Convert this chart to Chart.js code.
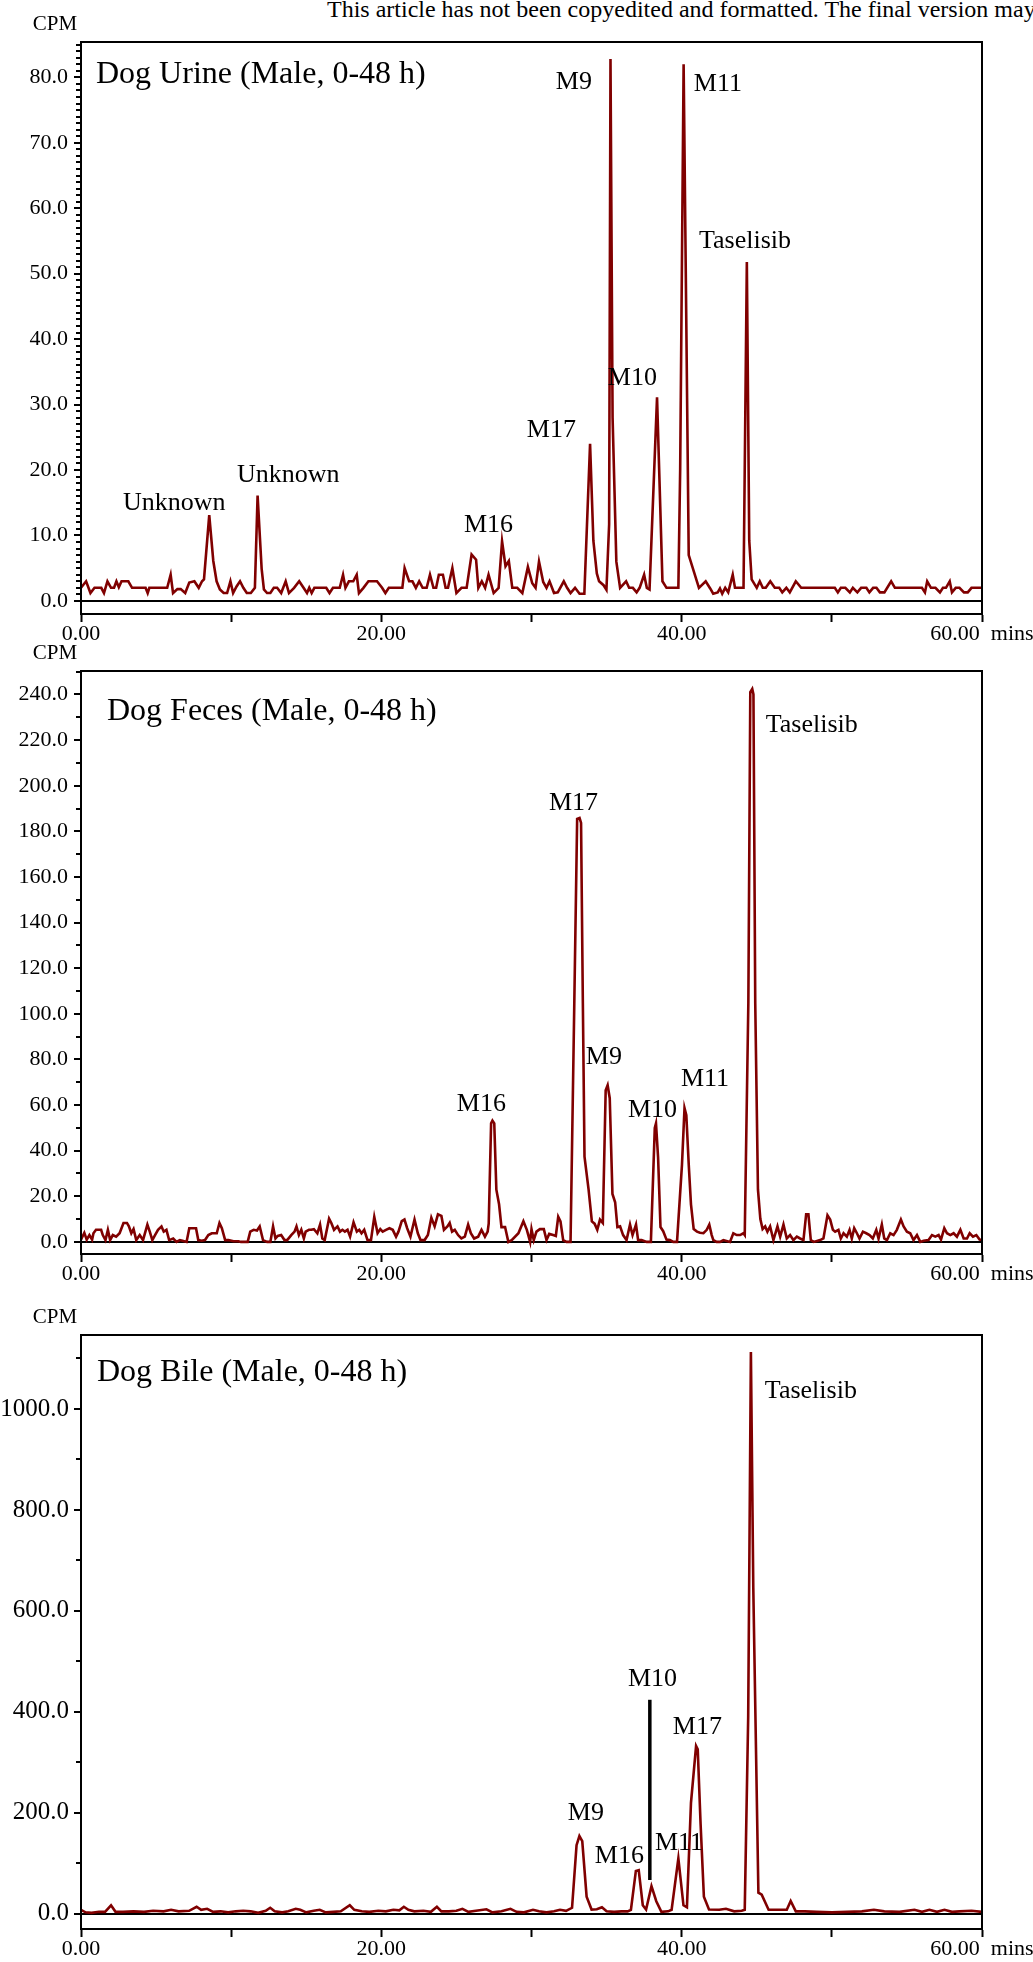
<!DOCTYPE html>
<html>
<head>
<meta charset="utf-8">
<title>Dog radiochromatograms</title>
<script src="https://cdn.jsdelivr.net/npm/chart.js@4.4.1/dist/chart.umd.min.js"></script>
<style>
  body {
    margin: 0;
    background: #fff;
    width: 1033px;
    height: 1962px;
    position: relative;
    overflow: hidden;
    font-family: "Liberation Serif", "Times New Roman", serif;
  }
  .note {
    position: absolute;
    left: 327px;
    top: -3px;
    font-size: 24px;
    line-height: 24px;
    white-space: nowrap;
    color: #000;
  }
  canvas {
    position: absolute;
    left: 0;
  }
</style>
</head>
<body>
<div class="note">This article has not been copyedited and formatted. The final version may</div>
<canvas id="urine-chart" width="1033" height="650" style="top:0px"></canvas>
<canvas id="feces-chart" width="1033" height="665" style="top:625px"></canvas>
<canvas id="bile-chart" width="1033" height="672" style="top:1290px"></canvas>

<script>
// retention time (min), CPM
const urineTrace = [
  [0, 2], [0.34, 3], [0.63, 1.2], [0.9, 2], [1.35, 2], [1.53, 1.2], [1.76, 3], [2.0, 2],
  [2.2, 2], [2.36, 3], [2.52, 2.1], [2.7, 3], [3.15, 3], [3.4, 2], [4.3, 2], [4.44, 1.2],
  [4.55, 2], [5.74, 2], [5.97, 4], [6.13, 1.2], [6.42, 1.8], [6.64, 1.8], [6.94, 1.2],
  [7.21, 2.8], [7.55, 3], [7.84, 2], [8.06, 3], [8.19, 3.3], [8.54, 13.1], [8.81, 6.1],
  [9.03, 3], [9.25, 1.75], [9.5, 1.2], [9.73, 1.2], [9.95, 3], [10.13, 1.2], [10.36, 2.2],
  [10.59, 3], [10.81, 2], [11.04, 1.2], [11.31, 1.2], [11.58, 2], [11.76, 16.1], [12.03, 4.9],
  [12.18, 1.75], [12.39, 1.2], [12.61, 1.2], [12.84, 2], [13.06, 2], [13.33, 1.2], [13.63, 3],
  [13.85, 1.2], [14.19, 2], [14.53, 3], [14.82, 2], [15.05, 1.2], [15.2, 2], [15.36, 1.2],
  [15.54, 2], [16.33, 2], [16.55, 1.2], [16.78, 2], [17.23, 2], [17.45, 4], [17.61, 2],
  [17.84, 3], [18.13, 3], [18.36, 4], [18.51, 1.2], [18.81, 2], [19.14, 3], [19.71, 3],
  [20.05, 2], [20.27, 1.2], [20.5, 2], [21.4, 2], [21.55, 5], [21.85, 3], [22.07, 3],
  [22.3, 2], [22.52, 3], [22.75, 2], [23.02, 2], [23.24, 4], [23.47, 2], [23.65, 2],
  [23.83, 4], [24.1, 4], [24.28, 2], [24.44, 2], [24.73, 5], [25.0, 1.2], [25.34, 2],
  [25.68, 2], [26.01, 7.1], [26.31, 6.3], [26.46, 2], [26.69, 3], [26.91, 2], [27.14, 4],
  [27.48, 1.2], [27.81, 2], [28.04, 9.1], [28.27, 5.3], [28.49, 6.1], [28.72, 2], [29.05, 2],
  [29.39, 1.2], [29.76, 5.2], [30.05, 2.7], [30.27, 2], [30.5, 6], [30.78, 2.9], [31.0, 2],
  [31.2, 3], [31.5, 1.2], [31.75, 1.3], [32.15, 3], [32.37, 2], [32.6, 1.2], [32.9, 2],
  [33.2, 1.1], [33.52, 1.1], [33.9, 24], [34.12, 9.2], [34.35, 4.2], [34.5, 3], [34.8, 2.4],
  [34.99, 1.7], [35.17, 11.7], [35.26, 82.8], [35.4, 28], [35.65, 6], [35.9, 2], [36.3, 3],
  [36.5, 2], [36.75, 2], [37.0, 1.3], [37.2, 2], [37.5, 4], [37.68, 2], [37.86, 1.75],
  [38.36, 31.1], [38.72, 3], [38.99, 2], [39.6, 2], [39.78, 2], [39.9, 20], [40.13, 82],
  [40.47, 7], [41.15, 2], [41.6, 3], [41.9, 1.9], [42.1, 1.1], [42.4, 1.3], [42.55, 1.9],
  [42.7, 1.1], [42.9, 2], [43.1, 1.3], [43.4, 4], [43.55, 2], [44.05, 2], [44.12, 2],
  [44.34, 51.8], [44.5, 9.2], [44.66, 3.3], [45.0, 2], [45.2, 3], [45.4, 2], [45.6, 2],
  [45.9, 3], [46.2, 2], [46.5, 2], [46.7, 1.3], [46.97, 2], [47.2, 1.3], [47.6, 3],
  [47.96, 2], [50.2, 2], [50.4, 1.3], [50.6, 2], [50.9, 2], [51.2, 1.3], [51.4, 2],
  [51.7, 1.3], [51.95, 2], [52.3, 2], [52.5, 1.3], [52.75, 2], [52.97, 2], [53.2, 1.3],
  [53.5, 1.3], [53.95, 3], [54.2, 2], [56.0, 2], [56.2, 1.3], [56.35, 3], [56.6, 2],
  [56.9, 2], [57.2, 1.3], [57.4, 2], [57.6, 2], [57.85, 3], [58.0, 1.3], [58.25, 2],
  [58.5, 2], [58.8, 1.3], [59.05, 1.3], [59.3, 2], [60, 2]
];

const fecesTrace = [
  [0, 1], [0.22, 4], [0.38, 1], [0.56, 3], [0.74, 1], [0.83, 3.8], [1.0, 5.3], [1.18, 5.3],
  [1.34, 5.3], [1.45, 3], [1.63, 0.8], [1.79, 5.3], [1.94, 0.8], [2.12, 3], [2.34, 2.3],
  [2.57, 3.8], [2.83, 8.3], [3.06, 8.3], [3.19, 6.8], [3.35, 3.8], [3.5, 5.6], [3.68, 0.8],
  [3.91, 3], [4.13, 0.8], [4.42, 7.6], [4.58, 4.5], [4.75, 0.8], [4.93, 3], [5.13, 5.3],
  [5.36, 6.8], [5.51, 4.5], [5.69, 5.3], [5.87, 0.8], [6.14, 1.5], [6.36, 0], [6.58, 0.8],
  [6.76, 0.5], [7.03, 0], [7.21, 6], [7.48, 6], [7.66, 6], [7.81, 0.8], [8.04, 0.5],
  [8.26, 0.8], [8.48, 3], [8.71, 3.8], [9.04, 3.8], [9.22, 8.3], [9.38, 6], [9.6, 0.8],
  [9.82, 0.8], [10.16, 0.3], [10.49, 0.3], [10.65, 0], [11.1, 0], [11.27, 4.5], [11.5, 5.3],
  [11.72, 5], [11.9, 6.8], [12.12, 0.8], [12.39, 0], [12.61, 0], [12.79, 6.8], [12.95, 1.5],
  [13.1, 2.6], [13.33, 3], [13.55, 0.8], [13.73, 0.8], [14.0, 3], [14.22, 4.5], [14.35, 6.8],
  [14.51, 3], [14.67, 5.3], [14.84, 1.5], [14.96, 4.5], [15.18, 5.3], [15.33, 5.3],
  [15.51, 5.6], [15.74, 3.8], [15.92, 7.6], [16.07, 1.5], [16.23, 0.8], [16.52, 10.2],
  [16.67, 8.3], [16.85, 5.3], [17.08, 6.8], [17.25, 4.5], [17.41, 5.3], [17.57, 4.5],
  [17.75, 5.3], [17.92, 2.3], [18.15, 8.6], [18.37, 4.5], [18.53, 5.3], [18.68, 3.8],
  [18.86, 5.3], [19.08, 0.8], [19.31, 0.8], [19.53, 11], [19.75, 3.8], [19.93, 5.6],
  [20.09, 4.5], [20.31, 5.3], [20.54, 6], [20.76, 5.3], [20.98, 2.3], [21.14, 4.5],
  [21.36, 9.1], [21.54, 9.8], [21.72, 6], [21.94, 2.3], [22.21, 9.8], [22.43, 3.8],
  [22.61, 0.8], [22.88, 0.8], [23.1, 3], [23.33, 10.6], [23.55, 6.8], [23.77, 12.1],
  [24.0, 11.4], [24.17, 5.3], [24.4, 6.8], [24.55, 8.3], [24.71, 4.5], [24.89, 5.3],
  [25.11, 3], [25.33, 1.5], [25.56, 2.3], [25.78, 7.6], [25.96, 3.8], [26.18, 1.5],
  [26.45, 2.3], [26.67, 5.3], [26.9, 2.3], [27.08, 4.5], [27.15, 8], [27.31, 52],
  [27.4, 53.2], [27.52, 52], [27.66, 22.9], [27.84, 16.5], [28.0, 6.5], [28.24, 6.5],
  [28.46, 0], [28.68, 0.8], [29.13, 3.8], [29.46, 9.1], [29.69, 5.3], [29.91, 0], [30.0, 5.6],
  [30.15, 0.8], [30.33, 4.5], [30.56, 5.6], [30.82, 5.6], [31.0, 0.8], [31.18, 3.5],
  [31.44, 3], [31.62, 2.6], [31.78, 11], [31.93, 9], [32.11, 0.8], [32.33, 0], [32.6, 0],
  [32.85, 104.6], [33.04, 185.5], [33.2, 185.9], [33.3, 183.7], [33.42, 104.6], [33.53, 37.4],
  [33.8, 23], [34.02, 9], [34.2, 8], [34.38, 5.3], [34.56, 9.8], [34.75, 8.3], [34.94, 66.5],
  [35.07, 68.7], [35.21, 63], [35.39, 21], [35.57, 17.4], [35.72, 6.5], [35.9, 6.8],
  [36.1, 3], [36.33, 0.8], [36.56, 7.6], [36.73, 3], [36.96, 7.6], [37.1, 0.8], [37.33, 0.8],
  [37.67, 0], [37.95, 0], [38.21, 50], [38.29, 52], [38.43, 37], [38.59, 6.5], [38.77, 4.7],
  [38.99, 1], [39.22, 0.8], [39.44, 0], [39.69, 0], [40.02, 33.8], [40.19, 58.7],
  [40.31, 55.6], [40.47, 34], [40.62, 16.5], [40.8, 5.6], [41.02, 4.5], [41.22, 4],
  [41.45, 3.8], [41.67, 5.3], [41.84, 7.6], [42.0, 3], [42.11, 0.8], [42.33, 0], [42.56, 0],
  [42.78, 0.8], [43.22, 0], [43.44, 3.8], [43.67, 3], [43.89, 3], [44.11, 3.8], [44.2, 3],
  [44.44, 104.6], [44.57, 241], [44.7, 242.4], [44.78, 240], [44.9, 104.6], [45.08, 23],
  [45.24, 10], [45.39, 5.6], [45.56, 6.8], [45.71, 4.5], [45.89, 6.8], [46.11, 0.8],
  [46.38, 6.8], [46.56, 2.3], [46.78, 7.6], [47.0, 1.5], [47.22, 3], [47.44, 0.8],
  [47.67, 2.3], [47.89, 1.5], [48.11, 0.8], [48.29, 12.1], [48.44, 12.1], [48.6, 0.8],
  [48.8, 0], [49.22, 0.8], [49.44, 1.5], [49.71, 11.7], [49.89, 9.8], [50.07, 5.3],
  [50.22, 4.5], [50.44, 5.3], [50.6, 1.5], [50.78, 3.8], [51.0, 2.3], [51.18, 5.3],
  [51.33, 1.5], [51.49, 6], [51.67, 3.8], [51.84, 1.5], [52.07, 4.5], [52.29, 3.8],
  [52.51, 3], [52.73, 1.5], [52.96, 5.3], [53.11, 1.5], [53.33, 7.6], [53.49, 1.5],
  [53.67, 0.8], [53.89, 3.8], [54.11, 3], [54.33, 5.3], [54.6, 9.8], [54.78, 6.8], [55.0, 4.5],
  [55.22, 3.8], [55.44, 0.8], [55.67, 3], [55.89, 0], [56.11, 0.5], [56.44, 0.8], [56.67, 3],
  [56.89, 2.3], [57.11, 3], [57.27, 1], [57.49, 6], [57.67, 3.8], [57.89, 3], [58.11, 3.8],
  [58.33, 2.3], [58.56, 5.3], [58.78, 1.5], [59.0, 1.5], [59.18, 3.8], [59.4, 2.3],
  [59.62, 3], [59.84, 1], [60, 0.8]
];

const bileTrace = [
  [0, 8], [0.3, 3], [0.7, 2], [1.2, 4], [1.6, 4], [2.0, 17], [2.3, 4], [2.8, 4], [3.5, 5],
  [4.2, 4], [4.8, 6], [5.5, 5], [6.0, 8], [6.5, 5], [7.2, 6], [7.7, 14], [8.0, 8], [8.4, 10],
  [8.8, 4], [9.3, 5], [9.8, 3], [10.3, 5], [10.8, 6], [11.3, 5], [11.8, 2], [12.3, 6],
  [12.6, 12], [12.9, 5], [13.4, 3], [13.8, 5], [14.3, 10], [14.6, 8], [15.0, 3], [15.5, 6],
  [15.9, 8], [16.3, 3], [16.8, 4], [17.3, 5], [17.9, 17], [18.2, 8], [18.7, 5], [19.2, 4],
  [19.8, 6], [20.3, 5], [20.8, 8], [21.2, 7], [21.5, 14], [21.8, 8], [22.2, 5], [22.8, 6],
  [23.3, 4], [23.7, 14], [24.0, 5], [24.5, 5], [25.0, 6], [25.4, 10], [25.8, 4], [26.3, 6],
  [27.0, 9], [27.4, 3], [28.0, 5], [28.6, 10], [29.0, 4], [29.5, 3], [30.1, 8], [30.5, 5],
  [31.0, 3], [31.5, 5], [31.9, 8], [32.3, 6], [32.7, 12], [33.0, 136], [33.19, 154],
  [33.38, 144], [33.67, 34], [34.0, 8.5], [34.35, 9], [34.69, 13], [35.0, 5], [35.5, 4],
  [36.0, 5], [36.4, 5], [36.62, 8], [36.95, 85], [37.14, 86.5], [37.41, 17], [37.63, 8.5],
  [37.99, 55], [38.31, 25], [38.65, 4], [39.1, 5], [39.33, 8], [39.78, 110], [40.12, 17],
  [40.35, 13], [40.62, 220], [40.96, 332.5], [41.07, 326], [41.26, 178], [41.48, 34],
  [41.82, 8.5], [42.5, 8], [42.95, 10], [43.5, 5], [44.0, 6], [44.2, 8], [44.43, 390],
  [44.61, 1112.8], [44.77, 645], [45.11, 42], [45.33, 38], [45.79, 8], [46.4, 8], [47.0, 8],
  [47.26, 25.4], [47.6, 5], [48.2, 5], [49.0, 4], [50.0, 3], [51.0, 4], [52.0, 5], [52.8, 8],
  [53.5, 5], [54.5, 4], [55.5, 8], [56.0, 4], [56.5, 8], [57.0, 4], [57.5, 8], [58.0, 4],
  [58.5, 5], [59.3, 6], [60, 4]
];

// vertical marker pointing at the M10 peak in bile: [time, CPM]
const bileM10Marker = [[37.88, 67], [37.88, 424]];

// peak labels: [text, time at left edge of text, CPM at text baseline]
const urineLabels = [
  ["Unknown", 2.8, 13.9], ["Unknown", 10.39, 18.2], ["M16", 25.5, 10.5],
  ["M17", 29.69, 25.1], ["M9", 31.62, 78.2], ["M10", 35.08, 33.0],
  ["M11", 40.81, 77.9], ["Taselisib", 41.15, 53.9]
];
const fecesLabels = [
  ["M16", 25.03, 57.4], ["M17", 31.16, 189.2], ["M9", 33.62, 78.2],
  ["M10", 36.42, 54.8], ["M11", 39.95, 68.3], ["Taselisib", 45.6, 223.6]
];
const bileLabels = [
  ["M10", 36.42, 451], ["M17", 39.41, 356], ["M9", 32.42, 186],
  ["M16", 34.22, 101], ["M11", 38.22, 126.7], ["Taselisib", 45.54, 1021.8]
];

const xTickValues = [0, 10, 20, 30, 40, 50, 60];
const urineYTicks = [0, 10, 20, 30, 40, 50, 60, 70, 80];
const fecesYTicks = [0, 20, 40, 60, 80, 100, 120, 140, 160, 180, 200, 220, 240];
const bileYTicks = [0, 200, 400, 600, 800, 1000];

const SERIF = "'Liberation Serif', 'Times New Roman', serif";
const TRACE_COLOR = "#800000";

function xLabel(value) {
  if (value === 60) return "60.00  mins";
  return value % 20 === 0 ? value.toFixed(2) : "";
}

// box border, minor y ticks, CPM caption, panel title and peak names
const panelDecor = {
  id: "panelDecor",
  afterDraw(chart, args, opts) {
    const ctx = chart.ctx;
    const area = chart.chartArea;
    const xs = chart.scales.x;
    const ys = chart.scales.y;
    ctx.save();

    ctx.strokeStyle = "#000";
    ctx.lineWidth = 2;
    ctx.strokeRect(area.left, area.top, area.right - area.left, area.bottom - area.top);

    ctx.lineWidth = 2;
    for (let v = 0; v <= ys.max; v += opts.minorStep) {
      const py = Math.round(ys.getPixelForValue(v));
      ctx.beginPath();
      ctx.moveTo(area.left - 5, py);
      ctx.lineTo(area.left, py);
      ctx.stroke();
    }

    ctx.fillStyle = "#000";
    ctx.textBaseline = "alphabetic";
    ctx.textAlign = "center";
    ctx.font = "21px " + SERIF;
    ctx.fillText("CPM", 55, area.top - 12.5);

    ctx.textAlign = "left";
    ctx.font = "32px " + SERIF;
    ctx.fillText(opts.title, area.left + opts.titleDx, area.top + opts.titleDy);

    ctx.font = "26px " + SERIF;
    opts.labels.forEach(([text, t, cpm]) => {
      ctx.fillText(text, xs.getPixelForValue(t), ys.getPixelForValue(cpm));
    });
    ctx.restore();
  }
};

function makePanel(canvasId, panel) {
  const datasets = [
    {
      data: panel.trace.map(([t, c]) => ({ x: t, y: c })),
      borderColor: TRACE_COLOR,
      borderWidth: 2.6,
      pointRadius: 0,
      tension: 0,
      fill: false
    }
  ];
  if (panel.marker) {
    datasets.push({
      data: panel.marker.map(([t, c]) => ({ x: t, y: c })),
      borderColor: "#000",
      borderWidth: 3.5,
      pointRadius: 0,
      fill: false
    });
  }

  return new Chart(document.getElementById(canvasId), {
    type: "line",
    data: { datasets: datasets },
    options: {
      responsive: false,
      animation: false,
      devicePixelRatio: 1,
      layout: { padding: panel.padding },
      plugins: {
        legend: { display: false },
        tooltip: { enabled: false },
        panelDecor: {
          title: panel.title,
          titleDx: panel.titleDx,
          titleDy: panel.titleDy,
          labels: panel.labels,
          minorStep: panel.minorStep
        }
      },
      scales: {
        x: {
          type: "linear",
          min: 0,
          max: 60,
          afterBuildTicks: (s) => { s.ticks = xTickValues.map((v) => ({ value: v })); },
          afterFit: (s) => { s.height = 30; s.paddingLeft = 0; s.paddingRight = 0; },
          ticks: {
            callback: (v) => xLabel(v),
            color: "#000",
            font: { family: SERIF, size: 22 },
            padding: -1,
            maxRotation: 0,
            autoSkip: false
          },
          grid: { drawOnChartArea: false, tickLength: 8, tickColor: "#000", tickWidth: 2 },
          border: { color: "#000", width: 2 }
        },
        y: {
          type: "linear",
          min: panel.yMin,
          max: panel.yMax,
          afterBuildTicks: (s) => { s.ticks = panel.yTicks.map((v) => ({ value: v })); },
          afterFit: (s) => { s.width = 81; s.paddingTop = 0; s.paddingBottom = 0; },
          ticks: {
            callback: (v) => v.toFixed(1),
            color: "#000",
            font: { family: SERIF, size: panel.yFont },
            padding: panel.yPad,
            autoSkip: false
          },
          grid: {
            color: (c) => (c.tick && c.tick.value === 0 ? "#000" : "rgba(0,0,0,0)"),
            lineWidth: 2,
            tickLength: 7,
            tickColor: "#000",
            tickWidth: 2
          },
          border: { color: "#000", width: 2 }
        }
      }
    },
    plugins: [panelDecor]
  });
}

makePanel("urine-chart", {
  trace: urineTrace,
  labels: urineLabels,
  title: "Dog Urine (Male, 0-48 h)",
  titleDx: 15, titleDy: 41,
  yTicks: urineYTicks, yMin: -2.0, yMax: 85.4, minorStep: 1,
  yFont: 22, yPad: 6,
  padding: { top: 42, right: 51, bottom: 6, left: 0 }
});

makePanel("feces-chart", {
  trace: fecesTrace,
  labels: fecesLabels,
  title: "Dog Feces (Male, 0-48 h)",
  titleDx: 26, titleDy: 49,
  yTicks: fecesYTicks, yMin: -5.3, yMax: 250.3, minorStep: 10,
  yFont: 22, yPad: 6,
  padding: { top: 46, right: 51, bottom: 6, left: 0 }
});

makePanel("bile-chart", {
  trace: bileTrace,
  marker: bileM10Marker,
  labels: bileLabels,
  title: "Dog Bile (Male, 0-48 h)",
  titleDx: 16, titleDy: 46,
  yTicks: bileYTicks, yMin: -30, yMax: 1146.5, minorStep: 100,
  yFont: 25, yPad: 5,
  padding: { top: 45, right: 51, bottom: 3, left: 0 }
});
</script>
</body>
</html>
